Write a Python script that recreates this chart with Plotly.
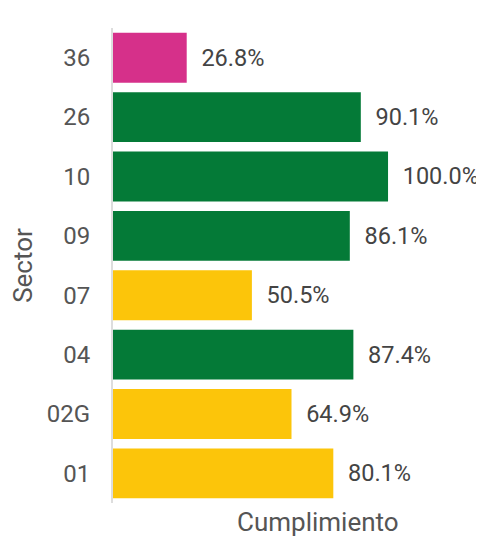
import plotly.graph_objects as go

sectores = ["01", "02G", "04", "07", "09", "10", "26", "36"]
cumplimiento = [80.1, 64.9, 87.4, 50.5, 86.1, 100.0, 90.1, 26.8]
colores = ["#FCC50A", "#FCC50A", "#047A37", "#FCC50A", "#047A37", "#047A37", "#047A37", "#D6308A"]

font_family = "Roboto"

fig = go.Figure(
    go.Bar(
        x=cumplimiento,
        y=sectores,
        orientation="h",
        marker=dict(color=colores, line=dict(width=0)),
        texttemplate="\u00a0\u00a0%{x:.1f}%",
        textposition="outside",
        textfont=dict(family=font_family, size=23.5, color="#444444"),
        cliponaxis=False,
        constraintext="none",
        hoverinfo="skip",
    )
)

fig.update_layout(
    width=476,
    height=530,
    margin=dict(l=105, r=14, t=20, b=35, autoexpand=False),
    paper_bgcolor="white",
    plot_bgcolor="white",
    bargap=0.16,
    showlegend=False,
    font=dict(family=font_family, color="#555555"),
    annotations=[
        dict(
            text="Cumplimiento",
            xref="paper",
            yref="paper",
            x=0.574,
            y=-0.04,
            xanchor="center",
            yanchor="middle",
            showarrow=False,
            font=dict(family=font_family, size=26, color="#555555"),
        )
    ],
)

fig.update_xaxes(
    range=[0, 129.8],
    showticklabels=False,
    showgrid=False,
    zeroline=False,
    showline=False,
    ticks="",
    automargin=False,
)

fig.update_yaxes(
    type="category",
    categoryorder="array",
    categoryarray=sectores,
    showline=True,
    linecolor="#dddddd",
    linewidth=2,
    showgrid=False,
    ticks="",
    ticklabelstandoff=16,
    automargin=False,
    tickfont=dict(family=font_family, size=24, color="#555555"),
    title=dict(text="Sector", font=dict(family=font_family, size=26, color="#555555"), standoff=20),
)

fig.write_html("out.html")
